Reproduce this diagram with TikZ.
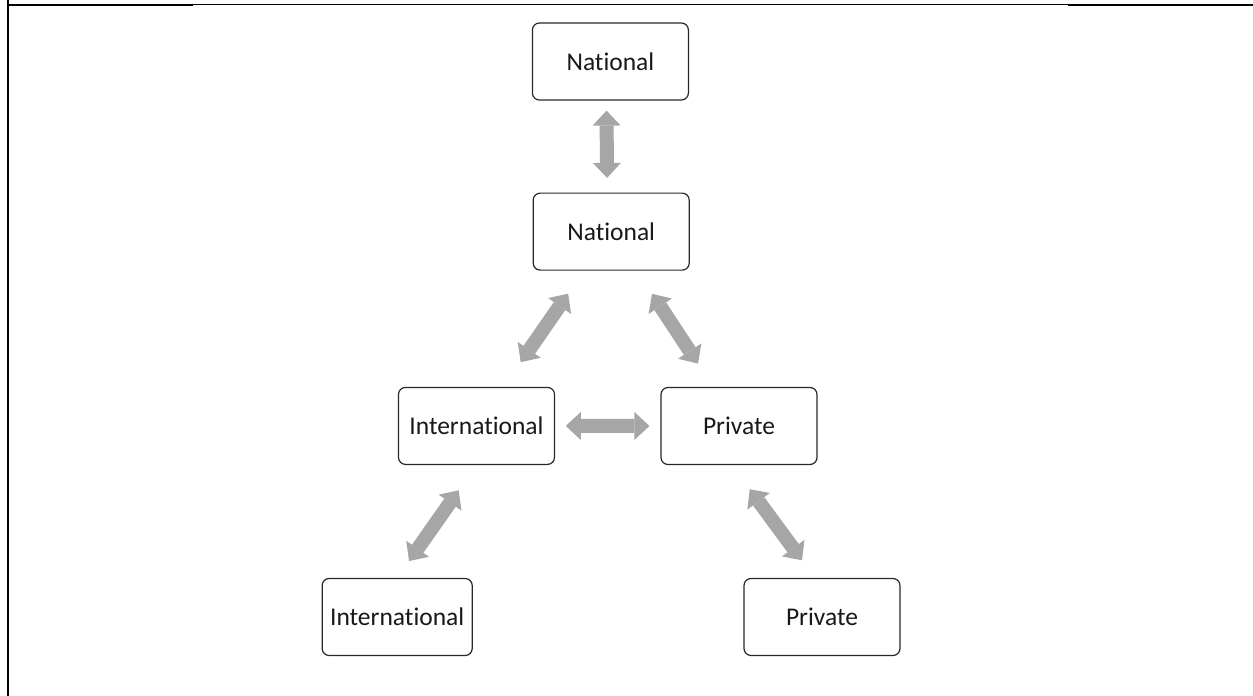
\documentclass[tikz,border=0pt]{standalone}
\usepackage{fontspec}
\setmainfont{Carlito}[Ligatures=NoCommon]
\usetikzlibrary{arrows.meta}
\definecolor{arrowgray}{RGB}{166,166,166}
\definecolor{boxline}{RGB}{40,40,40}
\definecolor{txt}{RGB}{25,25,25}
\begin{document}
\begin{tikzpicture}[x=1pt,y=-1pt,
  box/.style={draw=boxline, line width=1.2pt, rounded corners=7pt, fill=white,
    minimum width=156pt, minimum height=77pt, inner sep=0pt,
    font=\fontsize{25.5}{30}\selectfont, text=txt},
  link/.style={draw=arrowgray, line width=14pt,
    {Triangle[length=15pt,width=28pt,line width=0pt]}-{Triangle[length=15pt,width=28pt,line width=0pt]}},
  frame/.style={draw=black}
]
\useasboundingbox (0,0) rectangle (1253,696);
% frame lines
\draw[frame, line width=2pt] (8,0) -- (8,696);
\draw[frame, line width=2pt] (7,5) -- (193,5);
\draw[frame, line width=1pt] (193,4.5) -- (1068,4.5);
\draw[frame, line width=2pt] (1068,5) -- (1253,5);

% nodes
\node[box] (nat1) at (610.4,61.5) {National};
\node[box] (nat2) at (611.2,231.6) {National};
\node[box] (intl) at (476.5,425.9) {International};
\node[box] (priv) at (739,426) {Private};
\node[box, minimum width=150pt] (intl2) at (397.2,617) {International};
\node[box] (priv2) at (822,617) {Private};

% connectors
\draw[link, shorten <=10pt, shorten >=14.6pt] ([xshift=-4pt]nat1.south) -- ([xshift=-4pt]nat2.north);
\draw[link, shorten <=10.7pt, shorten >=11pt] (intl) -- (priv);
\draw[link, shorten <=28pt, shorten >=30pt] (nat2) -- (intl);
\draw[link, shorten <=27.6pt, shorten >=27.9pt] (nat2) -- (priv);
\draw[link, shorten <=31pt, shorten >=20.6pt] (intl.south) -- (intl2.north);
\draw[link, shorten <=29.9pt, shorten >=21.9pt] ([xshift=-7pt]priv.south) -- ([xshift=-7pt]priv2.north);
\end{tikzpicture}
\end{document}
